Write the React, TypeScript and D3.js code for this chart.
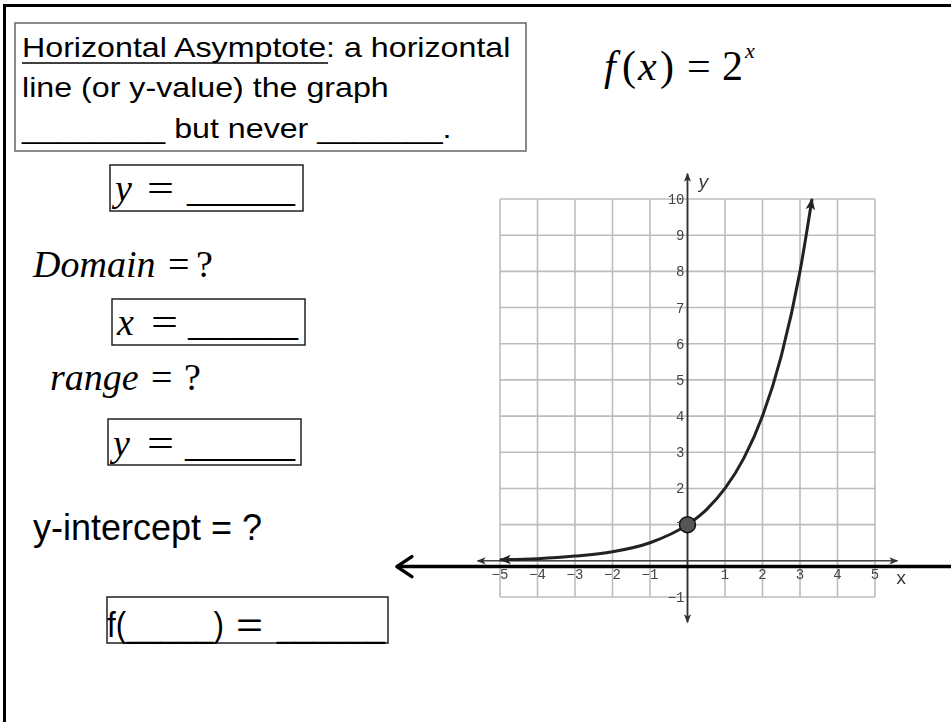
import React from "react";
import * as d3 from "d3";

// Canvas
const W = 951;
const H = 722;

// Grid and axis ticks
const gridXValues = [-5, -4, -3, -2, -1, 0, 1, 2, 3, 4, 5];
const gridYValues = [-1, 0, 1, 2, 3, 4, 5, 6, 7, 8, 9, 10];
const xTickLabels = [-5, -4, -3, -2, -1, 1, 2, 3, 4, 5];
const yTickLabels = [-1, 1, 2, 3, 4, 5, 6, 7, 8, 9, 10];

// Points on the curve f(x) = 2^x
const curveX = [-5, -4, -3, -2, -1, 0, 0.5, 1, 1.5, 2, 2.5, 3, 3.32];
const curveY = [0.03, 0.06, 0.13, 0.25, 0.5, 1, 1.41, 2, 2.83, 4, 5.66, 8, 10];

// y-intercept
const interceptX = [0];
const interceptY = [1];

const fmt = (v: number) => (v < 0 ? "\u2212" + Math.abs(v) : String(v));

export default function App() {
  const x = d3.scaleLinear().domain([-5, 5]).range([500, 875]);
  const y = d3.scaleLinear().domain([-1, 10]).range([597, 199]);

  const line = d3
    .line<number>()
    .x((_, i) => x(curveX[i]))
    .y((_, i) => y(curveY[i]))
    .curve(d3.curveMonotoneX);

  const sans = "'Liberation Sans', Arial, sans-serif";
  const serif = "'Liberation Serif', 'Times New Roman', serif";
  const mono = "'Liberation Mono', 'Courier New', monospace";

  // long black pointer arrow drawn just under the x-axis
  const ptrY = y(-0.16);
  const ptrX0 = x(-7.75);
  const ptrX1 = x(7.05);

  const answerBox = (
    bx: number,
    by: number,
    v: string,
    base: number,
    eqX: number,
    ux0: number,
    ux1: number
  ) => (
    <g>
      <rect x={bx} y={by} width={193} height={46} fill="none" stroke="#222" strokeWidth={1.5} />
      <text x={bx + 5} y={base} fontFamily={serif} fontStyle="italic" fontSize={38} fill="#000">
        {v}
      </text>
      <text x={eqX} y={base} fontFamily={serif} fontSize={38} textLength={27} lengthAdjust="spacingAndGlyphs" fill="#000">
        =
      </text>
      <text x={ux0} y={base} fontFamily={serif} fontSize={38} textLength={ux1 - ux0} lengthAdjust="spacingAndGlyphs" fill="#000">
        ______
      </text>
    </g>
  );

  return (
    <svg width={W} height={H} style={{ position: "absolute", left: 0, top: 0, background: "#fff" }}>
      <defs>
        <marker id="axisArrow" viewBox="0 0 10 10" refX={9} refY={5} markerWidth={9} markerHeight={9} markerUnits="userSpaceOnUse" orient="auto-start-reverse">
          <path d="M0,1 L10,5 L0,9 L2.5,5 Z" fill="#333" />
        </marker>
        <marker id="curveArrow" viewBox="0 0 10 10" refX={9} refY={5} markerWidth={12} markerHeight={12} markerUnits="userSpaceOnUse" orient="auto-start-reverse">
          <path d="M0,1 L10,5 L0,9 L2.5,5 Z" fill="#222" />
        </marker>
        <filter id="soft" x="-5%" y="-5%" width="110%" height="110%">
          <feGaussianBlur stdDeviation={0.5} />
        </filter>
      </defs>

      {/* page frame */}
      <rect x={4.5} y={5.5} width={W + 20} height={H + 20} fill="none" stroke="#000" strokeWidth={3} />

      {/* definition box */}
      <rect x={15} y={23} width={511} height={128} fill="none" stroke="#666" strokeWidth={1.5} />
      <g transform="translate(22,0) scale(1.13,1)" fontFamily={sans} fontSize={28.5} fill="#000">
        <text x={0} y={57}>Horizontal Asymptote: a horizontal</text>
        <text x={0} y={97}>line (or y-value) the graph</text>
        <text x={0} y={138}>________ but never _______.</text>
        <line x1={0} x2={270.8} y1={63} y2={63} stroke="#000" strokeWidth={1.6} />
      </g>

      {/* function */}
      <text y={80} fontFamily={serif} fontSize={42} fill="#000">
        <tspan x={604} fontStyle="italic">f</tspan>
        <tspan x={622}>(</tspan>
        <tspan x={638} fontStyle="italic">x</tspan>
        <tspan x={660}>)</tspan>
        <tspan x={687}>=</tspan>
        <tspan x={722}>2</tspan>
        <tspan x={745} y={58} fontStyle="italic" fontSize={22}>x</tspan>
      </text>

      {/* left column prompts */}
      {answerBox(110, 165, "y", 201, 147, 187, 295)}
      <text y={277} fontFamily={serif} fontSize={38} fill="#000">
        <tspan x={33} fontStyle="italic">Domain</tspan>
        <tspan x={168}>=</tspan>
        <tspan x={196}>?</tspan>
      </text>
      {answerBox(112, 299, "x", 335, 151, 188, 298)}
      <text y={390} fontFamily={serif} fontSize={38} fill="#000">
        <tspan x={50} fontStyle="italic">range</tspan>
        <tspan x={151}>=</tspan>
        <tspan x={184}>?</tspan>
      </text>
      {answerBox(108, 419, "y", 456, 147, 185, 295)}

      <text x={33} y={540} fontFamily={sans} fontSize={36} fill="#000">
        y-intercept = ?
      </text>

      <g fontFamily={sans} fontSize={35} fill="#000">
        <rect x={107} y={597} width={281} height={46} fill="none" stroke="#222" strokeWidth={1.5} />
        <text x={107} y={637} textLength={117} lengthAdjust="spacingAndGlyphs">f(_____)</text>
        <text x={236} y={637} textLength={27} lengthAdjust="spacingAndGlyphs">=</text>
        <text x={277} y={637} textLength={108} lengthAdjust="spacingAndGlyphs">______</text>
      </g>

      {/* coordinate plane */}
      <g filter="url(#soft)">
        {gridXValues.map((v) => (
          <line key={"gx" + v} x1={x(v)} x2={x(v)} y1={y(10)} y2={y(-1)} stroke="#bdbdbd" strokeWidth={1.6} />
        ))}
        {gridYValues.map((v) => (
          <line key={"gy" + v} x1={x(-5)} x2={x(5)} y1={y(v)} y2={y(v)} stroke="#bdbdbd" strokeWidth={1.6} />
        ))}

        {/* axes */}
        <line x1={x(-5.6)} x2={x(5.6)} y1={y(0)} y2={y(0)} stroke="#444" strokeWidth={1.6}
          markerStart="url(#axisArrow)" markerEnd="url(#axisArrow)" />
        <line x1={x(0)} x2={x(0)} y1={y(-1.7)} y2={y(10.7)} stroke="#333" strokeWidth={1.8}
          markerStart="url(#axisArrow)" markerEnd="url(#axisArrow)" />

        {xTickLabels.map((v) => (
          <text key={"xl" + v} x={x(v)} y={y(0) + 18} textAnchor="middle" fontFamily={mono} fontSize={14} fill="#444">
            {fmt(v)}
          </text>
        ))}
        {yTickLabels.map((v) => (
          <text key={"yl" + v} x={x(0) - 3} y={y(v) + 5} textAnchor="end" fontFamily={mono} fontSize={14} fill="#444">
            {fmt(v)}
          </text>
        ))}
        <text x={x(5.55)} y={y(0) + 23} fontFamily={mono} fontSize={18} fill="#333">x</text>
        <text x={x(0.28)} y={y(10.3)} fontFamily={mono} fontStyle="italic" fontSize={18} fill="#333">y</text>

        {/* curve */}
        <path d={line(curveX) || ""} fill="none" stroke="#222" strokeWidth={3}
          markerStart="url(#curveArrow)" markerEnd="url(#curveArrow)" />

        {interceptX.map((v, i) => (
          <circle key={"pt" + i} cx={x(v)} cy={y(interceptY[i])} r={8} fill="#555" stroke="#111" strokeWidth={1.5} />
        ))}
      </g>

      {/* pointer line with open arrowhead */}
      <line x1={ptrX0} x2={ptrX1} y1={ptrY} y2={ptrY} stroke="#000" strokeWidth={3.5} />
      <path d={`M${ptrX0 + 15},${ptrY - 10} L${ptrX0},${ptrY} L${ptrX0 + 15},${ptrY + 10}`}
        fill="none" stroke="#000" strokeWidth={3.5} strokeLinecap="round" strokeLinejoin="round" />
    </svg>
  );
}
